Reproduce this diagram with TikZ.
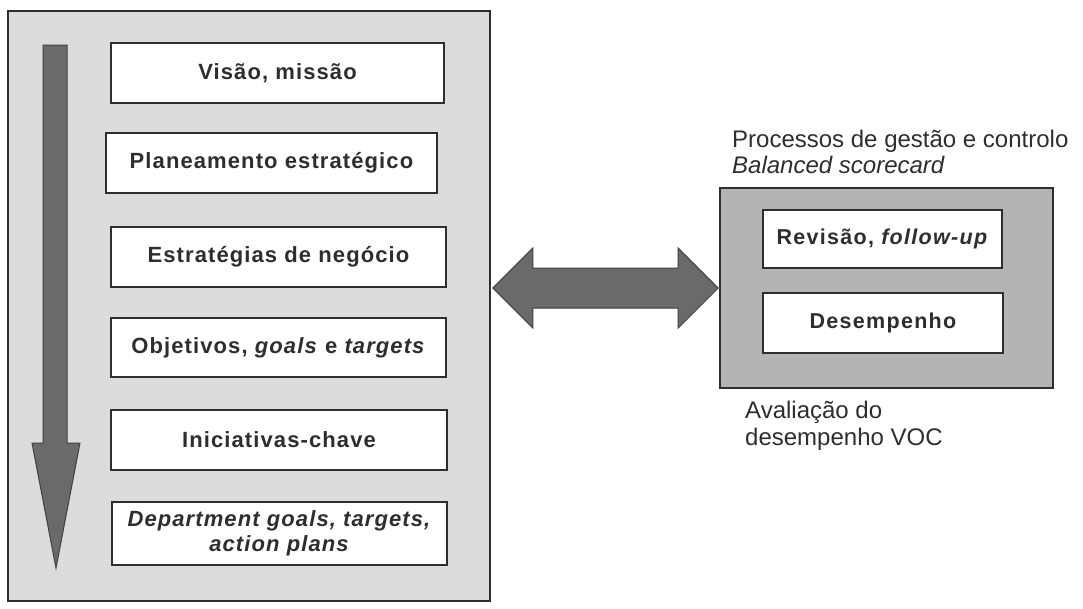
\documentclass[tikz,border=0pt]{standalone}
\usepackage{fontspec}
\usetikzlibrary{calc}
\setmainfont{Liberation Sans}
\newfontfamily\trackedsans[LetterSpace=5]{Liberation Sans}
\newfontfamily\widesans[LetterSpace=6]{Liberation Sans}
\definecolor{panelgray}{HTML}{DCDCDC}
\definecolor{boxgray}{HTML}{B4B4B4}
\definecolor{arrowgray}{HTML}{6A6A6A}
\definecolor{inkgray}{HTML}{2E2E2E}
\begin{document}
\begin{tikzpicture}[x=1pt,y=-1pt,
  panel/.style={draw=inkgray, line width=1.6pt, fill=panelgray, inner sep=0pt},
  scpanel/.style={draw=inkgray, line width=1.6pt, fill=boxgray, inner sep=0pt},
  stepbox/.style={draw=inkgray, line width=1.6pt, fill=white, inner sep=0pt,
    minimum height=60pt, align=center, text=inkgray,
    font=\trackedsans\bfseries\fontsize{22}{25}\selectfont},
  smallbox/.style={stepbox, font=\widesans\bfseries\fontsize{21.5}{25}\selectfont},
  bigarrow/.style={draw=black!75, line width=1pt, fill=arrowgray, line join=miter},
  caption/.style={anchor=base west, inner sep=0pt, text=inkgray,
    font=\fontsize{24}{28}\selectfont}
]
\useasboundingbox (0,0) rectangle (1083,608);

% left panel with the strategy cascade
\node[panel, minimum width=482pt, minimum height=590pt] (panel) at (249,306) {};

% downward flow arrow
\draw[bigarrow] (43,45) -- (67,45) -- (67,443) -- (80,443) -- (56,568)
  -- (32,443) -- (43,443) -- cycle;

\node[stepbox, minimum width=333pt] (s1) at (277.5,73) {Visão, missão};
\node[stepbox, minimum width=331pt] (s2) at (271.5,163) {Planeamento estratégico};
\node[stepbox, minimum width=335pt] (s3) at (278.5,257) {Estratégias de negócio};
\node[stepbox, minimum width=335pt, minimum height=59pt] (s4) at (278.5,347.5)
  {Objetivos, \textit{goals} e \textit{targets}};
\node[stepbox, minimum width=336pt] (s5) at (279,440) {Iniciativas-chave};
\node[stepbox, minimum width=335pt, minimum height=63pt] (s6) at (279.5,533.5)
  {\textit{Department goals, targets,}\\[0pt]\textit{action plans}};

% right panel: management and control
\node[scpanel, minimum width=333pt, minimum height=200pt] (sc) at (886.5,288) {};
\node[smallbox, minimum width=239pt, minimum height=58pt] (r1) at (882.5,239)
  {Revisão, \textit{follow-up}};
\node[smallbox, minimum width=240pt] (r2) at (883,323) {Desempenho};

\node[caption] (title) at (732,147) {Processos de gestão e controlo};
\node[caption, font=\itshape\fontsize{24}{28}\selectfont] (bsc) at (732,173) {Balanced scorecard};
\node[caption] (voc1) at (745,418) {Avaliação do};
\node[caption] (voc2) at (745,445) {desempenho VOC};

% two-way link between the panels
\coordinate (L) at (panel.east |- sc.west);
\coordinate (R) at (sc.west);
\draw[bigarrow] ($(L)+(2,0)$) -- ++(40,-40) -- ++(0,20) -- ($(R)+(-41,-20)$)
  -- ++(0,-20) -- ($(R)+(-1,0)$) -- ++(-40,40) -- ++(0,-20)
  -- ($(L)+(42,20)$) -- ++(0,20) -- cycle;
\end{tikzpicture}
\end{document}
